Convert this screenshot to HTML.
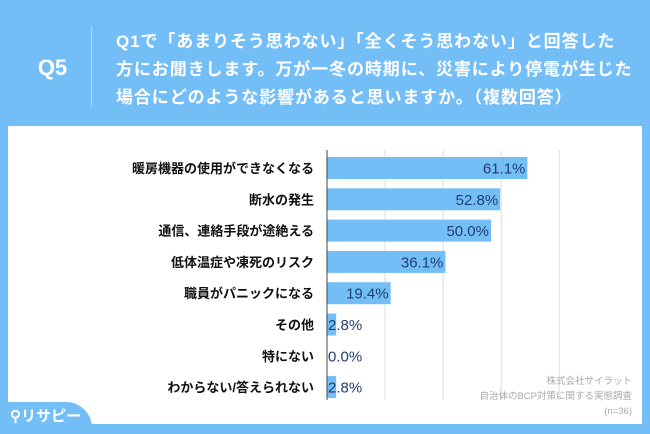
<!DOCTYPE html>
<html><head><meta charset="utf-8"><style>
body{margin:0;width:650px;height:434px;overflow:hidden;background:#74bef8;font-family:"Liberation Sans","Noto Sans CJK JP",sans-serif;position:relative}
.q5{position:absolute;left:30px;top:55px;width:45px;text-align:center;color:#fff;font-size:22px;font-weight:bold}
.div{position:absolute;left:91px;top:27px;width:1px;height:79px;background:#b8dcf9}
.qt{position:absolute;left:116px;top:28px;color:#fff;font-size:17px;font-weight:bold;line-height:28px;letter-spacing:0.9px;white-space:nowrap}
.panel{position:absolute;left:8px;top:126px;width:634px;height:298px;background:#fff}
.tab{position:absolute;left:0;top:402px;width:92px;height:32px;background:#74bef8;border-top-right-radius:26px}
.logo{position:absolute;left:10px;top:405px;color:#fff;font-size:15px;font-weight:bold}
.src{position:absolute;right:18px;top:374px;text-align:right;color:#aaa;font-size:9.5px;line-height:15px}
</style></head><body>
<div class="q5">Q5</div>
<div class="div"></div>
<div class="qt">Q1で「あまりそう思わない」「全くそう思わない」と回答した<br>方にお聞きします。万が一冬の時期に、災害により停電が生じた<br>場合にどのような影響があると思いますか。（複数回答）</div>
<div class="panel"></div>
<svg id="chart" width="650" height="434" style="position:absolute;left:0;top:0"></svg>
<div class="src">株式会社サイラット<br>自治体のBCP対策に関する実態調査<br>(n=36)</div>
<div class="tab"></div>
<div class="logo">⚲リサピー</div>
<script>
const categories=["暖房機器の使用ができなくなる","断水の発生","通信、連絡手段が途絶える","低体温症や凍死のリスク","職員がパニックになる","その他","特にない","わからない/答えられない"];
const values=[61.1,52.8,50.0,36.1,19.4,2.8,0.0,2.8];
const gridTicks=[17.7,35.4,53.1,70.8];
const ns="http://www.w3.org/2000/svg";
const svg=document.getElementById('chart');
const x0=327,scale=3.28,y0=168,step=31.3,bh=22;
const xs=v=>x0+v*scale, ys=i=>y0+i*step;
function mk(t,a){const e=document.createElementNS(ns,t);for(const k in a)e.setAttribute(k,a[k]);svg.appendChild(e);return e;}
gridTicks.forEach(g=>{const l=mk('line',{x1:xs(g),x2:xs(g),y1:150,y2:400,stroke:'#ddd','stroke-width':1});

});
categories.forEach((c,i)=>{
 const y=ys(i),v=values[i];
 const r=mk('rect',{x:x0,y:y-bh/2,width:Math.max(0,xs(v)-x0),height:bh,fill:'#74bef8'});
 
 
 const lb=mk('text',{x:314,y:y+5,'text-anchor':'end','font-size':13,'font-weight':'bold',fill:'#111'});lb.textContent=c;
 
 
 const inside=v>10;
 const vt=mk('text',{x:inside?xs(v)-2:x0+1,y:y+5.5,'text-anchor':inside?'end':'start','font-size':15,fill:'#1f3f6e'});vt.textContent=v.toFixed(1)+'%';
 
 
});
const ax=mk('line',{x1:x0,x2:x0,y1:150,y2:400,stroke:'#444','stroke-width':1});


</script>
</body></html>
